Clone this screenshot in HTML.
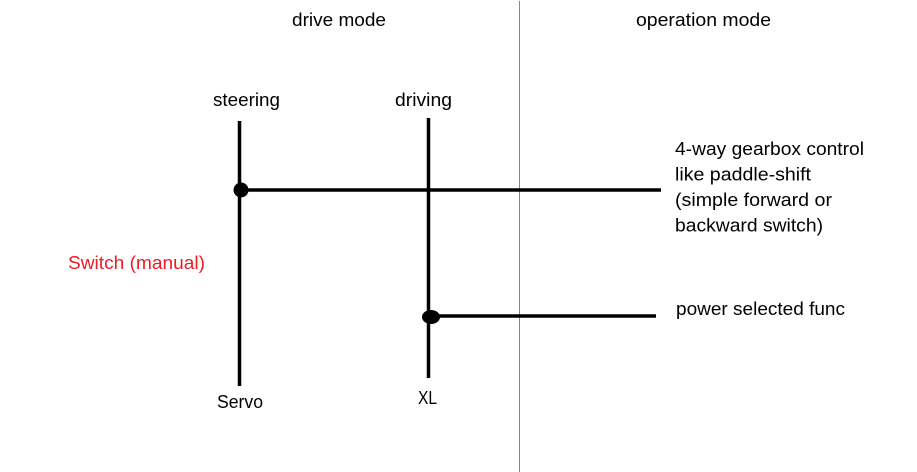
<!DOCTYPE html>
<html>
<head>
<meta charset="utf-8">
<style>
  html, body { margin: 0; padding: 0; background: #ffffff; }
  body { width: 917px; height: 472px; overflow: hidden; }
  svg { display: block; }
  text { font-family: "Liberation Sans", sans-serif; font-size: 18px; fill: #000; }
</style>
</head>
<body>
<svg width="917" height="472" viewBox="0 0 917 472" xmlns="http://www.w3.org/2000/svg">
  <rect width="917" height="472" fill="#ffffff"/>

  <!-- divider -->
  <line x1="519.5" y1="1" x2="519.5" y2="472" stroke="#5a93bf" stroke-width="1"/>

  <!-- headers -->
  <text x="292" y="26" textLength="94" lengthAdjust="spacingAndGlyphs">drive mode</text>
  <text x="636" y="26" textLength="135" lengthAdjust="spacingAndGlyphs">operation mode</text>

  <!-- column labels -->
  <text x="213" y="106" textLength="67" lengthAdjust="spacingAndGlyphs">steering</text>
  <text x="395" y="106" textLength="57" lengthAdjust="spacingAndGlyphs">driving</text>

  <!-- vertical lines -->
  <line x1="239.5" y1="121" x2="239.5" y2="386" stroke="#000" stroke-width="3.5"/>
  <line x1="428.5" y1="118" x2="428.5" y2="378" stroke="#000" stroke-width="3.5"/>

  <!-- horizontal lines -->
  <line x1="240" y1="190" x2="661" y2="190" stroke="#000" stroke-width="3.5"/>
  <line x1="430" y1="316" x2="656" y2="316" stroke="#000" stroke-width="3.5"/>

  <!-- junction dots -->
  <ellipse cx="241" cy="190" rx="7.5" ry="7.5" fill="#000"/>
  <ellipse cx="431" cy="317" rx="9" ry="7" fill="#000"/>

  <!-- bottom labels -->
  <text x="217" y="408" textLength="46" lengthAdjust="spacingAndGlyphs">Servo</text>
  <text x="418" y="404" textLength="19" lengthAdjust="spacingAndGlyphs">XL</text>

  <!-- red label -->
  <text x="68" y="269" textLength="137" lengthAdjust="spacingAndGlyphs" style="fill:#ee1c24">Switch (manual)</text>

  <!-- right texts -->
  <text x="675" y="155" textLength="189" lengthAdjust="spacingAndGlyphs">4-way gearbox control</text>
  <text x="675" y="180.5" textLength="136" lengthAdjust="spacingAndGlyphs">like paddle-shift</text>
  <text x="675" y="206" textLength="157" lengthAdjust="spacingAndGlyphs">(simple forward or</text>
  <text x="675" y="231.5" textLength="148" lengthAdjust="spacingAndGlyphs">backward switch)</text>

  <text x="676" y="315" textLength="169" lengthAdjust="spacingAndGlyphs">power selected func</text>
</svg>
</body>
</html>
